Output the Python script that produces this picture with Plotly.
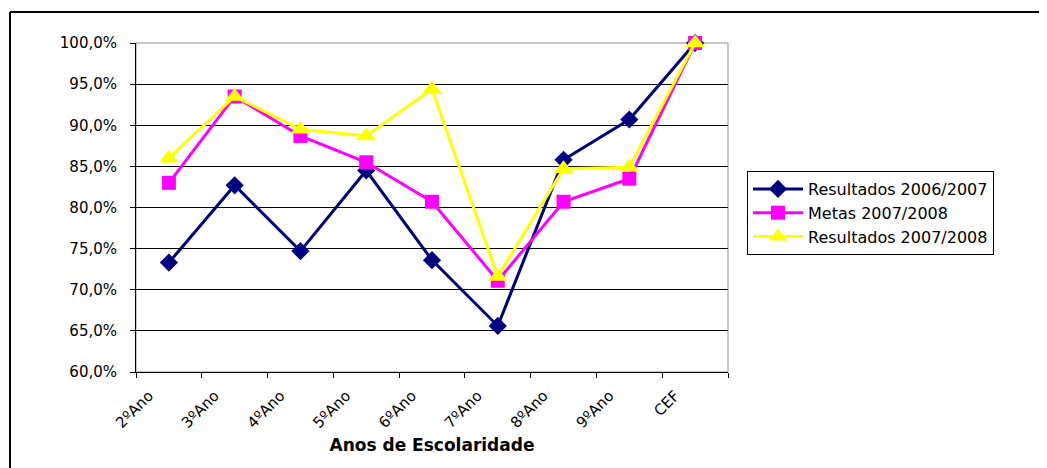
import plotly.graph_objects as go

categories = ["2ºAno", "3ºAno", "4ºAno", "5ºAno", "6ºAno", "7ºAno", "8ºAno", "9ºAno", "CEF"]
resultados_2006_2007 = [73.3, 82.7, 74.7, 84.5, 73.6, 65.6, 85.8, 90.7, 100.0]
metas_2007_2008 = [83.0, 93.5, 88.7, 85.5, 80.7, 71.1, 80.7, 83.5, 100.0]
resultados_2007_2008 = [86.0, 93.5, 89.5, 88.7, 94.4, 71.6, 84.7, 84.9, 100.0]

FONT = "DejaVu Sans"

fig = go.Figure()
fig.add_trace(go.Scatter(
    x=categories, y=resultados_2006_2007, mode="lines+markers",
    name="Resultados 2006/2007",
    line=dict(color="#000080", width=3),
    marker=dict(symbol="diamond", size=14, color="#000080"),
    cliponaxis=False))
fig.add_trace(go.Scatter(
    x=categories, y=metas_2007_2008, mode="lines+markers",
    name="Metas 2007/2008",
    line=dict(color="#FF00FF", width=3),
    marker=dict(symbol="square", size=14, color="#FF00FF"),
    cliponaxis=False))
fig.add_trace(go.Scatter(
    x=categories, y=resultados_2007_2008, mode="lines+markers",
    name="Resultados 2007/2008",
    line=dict(color="#FFFF00", width=3),
    marker=dict(symbol="triangle-up", size=17, color="#FFFF00"),
    cliponaxis=False))

# page body has an 8px margin; compensate so the screenshot matches
OFF = 8
W, H = 1047 - OFF, 468 - OFF
L, T = 136 - OFF, 43 - OFF
pw, ph = 728 - 136, 372 - 43
R = W - L - pw
B = H - T - ph

def px(x):  # screenshot px -> paper
    return (x - 136) / pw

def py(y):
    return (372 - y) / ph

fig.update_layout(
    width=W, height=H,
    margin=dict(l=L, r=R, t=T, b=B, pad=0),
    paper_bgcolor="white", plot_bgcolor="white",
    separators=",.",
    font=dict(family=FONT, size=15, color="black"),
    showlegend=True,
    legend=dict(
        x=px(747), y=py(171), xanchor="left", yanchor="top",
        bordercolor="black", borderwidth=1,
        font=dict(family=FONT, size=16, color="black"),
        tracegroupgap=0, itemwidth=50,
    ),
    xaxis=dict(
        type="category", range=[-0.5, 8.5],
        tickangle=-45, tickson="boundaries",
        ticks="outside", ticklen=5, tickcolor="black",
        ticklabelshift=-20, ticklabelstandoff=8,
        showline=True, linecolor="black", linewidth=1,
        showgrid=False, tickfont=dict(family=FONT, size=15, color="black"),
        title=dict(text="<b>Anos de Escolaridade</b>",
                   font=dict(family=FONT, size=17, color="black"), standoff=8),
    ),
    yaxis=dict(
        range=[60, 100], dtick=5, tick0=60,
        tickformat=".1f", ticksuffix="%",
        ticks="outside", ticklen=5, tickcolor="black",
        ticklabelstandoff=10,
        showline=True, linecolor="black", linewidth=1,
        showgrid=True, gridcolor="black", gridwidth=1,
        tickfont=dict(family=FONT, size=15, color="black"),
        zeroline=False,
    ),
    shapes=[
        dict(type="rect", xref="paper", yref="paper", x0=0, x1=1, y0=0, y1=1,
             line=dict(color="#909090", width=1), layer="below"),
        dict(type="line", xref="paper", yref="paper",
             x0=px(10), x1=px(1043), y0=py(12), y1=py(12),
             line=dict(color="black", width=2)),
        dict(type="line", xref="paper", yref="paper",
             x0=px(10), x1=px(10), y0=py(12), y1=py(475),
             line=dict(color="black", width=2)),
    ],
)

fig.write_html("out.html")
